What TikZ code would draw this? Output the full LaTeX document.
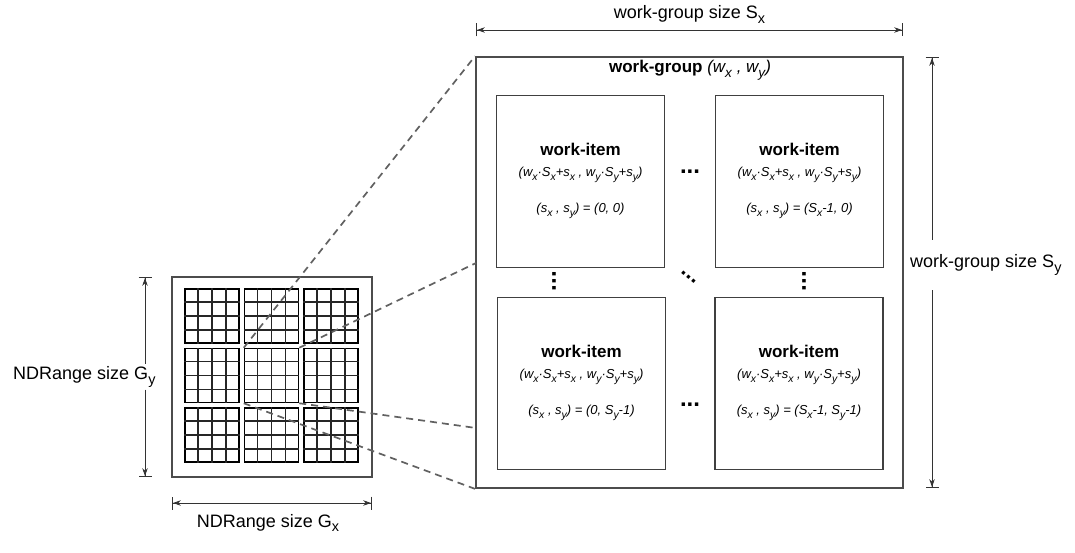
\documentclass[tikz,border=0pt]{standalone}
\usepackage{fontspec}
\setmainfont{Liberation Sans}
\usetikzlibrary{arrows.meta,calc}
\newcommand\lo[1]{\raisebox{-0.5ex}{\scalebox{0.8}{#1}}}
\begin{document}
\begin{tikzpicture}[x=1pt,y=-1pt,
  bigbox/.style={draw=black!70,line width=1.8pt,inner sep=0pt},
  itembox/.style={draw=black!75,line width=1.4pt,inner sep=0pt,minimum width=168pt,minimum height=172pt},
  blk/.style={draw=black,line width=1.5pt,inner sep=0pt,minimum size=54pt},
  gridline/.style={draw=black!85,line width=1.5pt},
  dashline/.style={draw=black!62,line width=1.7pt,dash pattern=on 7pt off 5pt},
  dimline/.style={draw=black!80,line width=0.9pt},
  startdim/.style={dimline,{Bar[width=13pt,line width=0.9pt]Stealth[length=8pt,width=5.5pt]}-},
  enddim/.style={dimline,-{Stealth[length=8pt,width=5.5pt]Bar[width=13pt,line width=0.9pt]}},
  bothdim/.style={dimline,{Bar[width=13pt,line width=0.9pt]Stealth[length=8pt,width=5.5pt]}-{Stealth[length=8pt,width=5.5pt]Bar[width=13pt,line width=0.9pt]}},
  dimlabel/.style={font=\fontsize{18}{20}\selectfont,inner sep=0pt},
  titletext/.style={font=\fontsize{17}{19}\selectfont\bfseries,inner sep=0pt},
  formula/.style={font=\fontsize{13}{15}\selectfont\itshape,inner sep=0pt},
  dotstext/.style={font=\fontsize{24}{24}\selectfont\bfseries,inner sep=0pt}
]
\useasboundingbox (0,0) rectangle (1075,553);

% NDRange box with 3x3 work-groups
\node[bigbox,minimum size=200pt] (nd) at (272,377) {};
\foreach \i in {1,2,3}{
  \foreach \j in {1,2,3}{
    \node[blk] (b\i\j) at ({212+59.5*(\i-1)},{316+59.5*(\j-1)}) {};
    \foreach \k in {1,2,3}{
      \draw[gridline] ($(b\i\j.north west)!\k/4!(b\i\j.north east)$) -- ($(b\i\j.south west)!\k/4!(b\i\j.south east)$);
      \draw[gridline] ($(b\i\j.north west)!\k/4!(b\i\j.south west)$) -- ($(b\i\j.north east)!\k/4!(b\i\j.south east)$);
    }
  }
}

% work-group box
\node[bigbox,minimum width=427pt,minimum height=431pt] (wg) at (689.5,272.5) {};
\node[anchor=base,inner sep=0pt] (wgtitle) at (690,73)
  {\fontsize{17}{19}\selectfont\textbf{work-group} \textit{(w\lo{x} , w\lo{y})}};

% zoom lines
\coordinate (zr1) at (476,263);
\coordinate (zr2) at (476,428);
\draw[dashline] (b22.north west) -- (wg.north west);
\draw[dashline] (b22.north east) -- (zr1);
\draw[dashline] (b22.south east) -- (zr2);
\draw[dashline] (b22.south west) -- (wg.south west);

% work-items
\node[itembox] (wi1) at (580.5,181.5) {};
\node[itembox] (wi2) at (799.5,181.5) {};
\node[itembox] (wi3) at (581.5,383.5) {};
\node[itembox] (wi4) at (799,383.5) {};

\foreach \w/\s in {wi1/{(0, 0)},wi2/{(S\lo{x}-1, 0)},wi3/{(0, S\lo{y}-1)},wi4/{(S\lo{x}-1, S\lo{y}-1)}}{
  \node[titletext,anchor=base] at ($(\w.north)+(0,61)$) {work-item};
  \node[formula,anchor=base] at ($(\w.north)+(0,82)$) {(w\lo{x}·S\lo{x}+s\lo{x} , w\lo{y}·S\lo{y}+s\lo{y})};
  \node[formula,anchor=base] at ($(\w.north)+(0,118)$) {(s\lo{x} , s\lo{y}) = \s};
}

% ellipses
\node[dotstext] (dh1) at (690,172) {...};
\node[dotstext] (dh2) at (690,405) {...};
\node[dotstext,rotate=90] (dv1) at (554,281) {...};
\node[dotstext,rotate=90] (dv2) at (804,281) {...};
\node[font=\fontsize{22}{22}\selectfont\bfseries,inner sep=0pt,rotate=-40] (dd) at (689,277) {...};

% dimension: work-group size Sx
\coordinate (sxl) at (476,30);
\coordinate (sxr) at (903,30);
\draw[bothdim] (sxl) -- (sxr);
\node[dimlabel,anchor=base] (sxlab) at (689.5,19) {work-group size S\lo{x}};

% dimension: work-group size Sy
\coordinate (syt) at (932,57);
\coordinate (syb) at (932,488);
\node[dimlabel,anchor=west,minimum height=50pt] (sylab) at (910,265) {work-group size S\lo{y}};
\draw[startdim] (syt) -- (syt |- sylab.north);
\draw[enddim] (syt |- sylab.south) -- (syb);

% dimension: NDRange size Gy
\coordinate (gyt) at (145,277);
\coordinate (gyb) at (145,477);
\node[dimlabel,anchor=west,minimum height=25pt] (gylab) at (13,377) {NDRange size G\lo{y}};
\draw[startdim] (gyt) -- (gyt |- gylab.north);
\draw[enddim] (gyt |- gylab.south) -- (gyb);

% dimension: NDRange size Gx
\coordinate (gxl) at (172,503);
\coordinate (gxr) at (372,503);
\draw[bothdim] (gxl) -- (gxr);
\node[dimlabel,anchor=base] (gxlab) at (268,527) {NDRange size G\lo{x}};
\end{tikzpicture}
\end{document}
